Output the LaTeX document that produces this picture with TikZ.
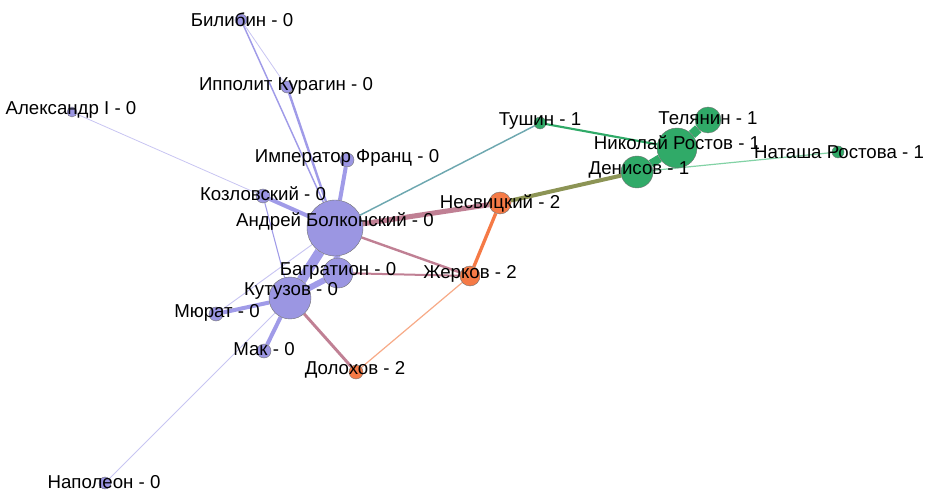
\documentclass[tikz,border=0pt]{standalone}
\usepackage{fontspec}
\setmainfont{Liberation Sans}
\usetikzlibrary{backgrounds}

\definecolor{lav}{RGB}{155,150,226}
\definecolor{lavedge}{RGB}{160,155,232}
\definecolor{lavthin}{RGB}{200,197,242}
\definecolor{grn}{RGB}{48,170,104}
\definecolor{grnthin}{RGB}{130,210,165}
\definecolor{org}{RGB}{245,122,70}
\definecolor{orgthin}{RGB}{247,170,135}
\definecolor{rose}{RGB}{192,128,148}
\definecolor{tealedge}{RGB}{110,168,176}
\definecolor{olive}{RGB}{140,148,85}

\tikzset{
  dot/.style={circle,draw=black!55,line width=0.3pt,inner sep=0pt,minimum size=#1*1.5pt},
  charlabel/.style={font=\fontsize{14}{16}\selectfont,inner sep=0pt},
}

\begin{document}
\begin{tikzpicture}[x=0.75pt,y=-0.75pt]
\useasboundingbox (0,0) rectangle (930,491);

% characters, group 0
\node[dot=6,fill=lav] (bilibin) at (241,20) {};
\node[dot=6,fill=lav] (ippolit) at (287,87) {};
\node[dot=5,fill=lav] (alexandr) at (72,112) {};
\node[dot=7,fill=lav] (franz) at (347,160) {};
\node[dot=7,fill=lav] (kozlovsky) at (263,196) {};
\node[dot=28,fill=lav] (andrey) at (335,228) {};
\node[dot=15,fill=lav] (bagration) at (338,273) {};
\node[dot=21,fill=lav] (kutuzov) at (290,298) {};
\node[dot=7,fill=lav] (murat) at (216,314) {};
\node[dot=7,fill=lav] (mak) at (264,351) {};
\node[dot=6,fill=lav] (napoleon) at (105,483) {};

% group 1
\node[dot=6,fill=grn] (tushin) at (540,123) {};
\node[dot=13,fill=grn] (telyanin) at (708,120) {};
\node[dot=20,fill=grn] (nikolay) at (677,148) {};
\node[dot=6,fill=grn] (natasha) at (838,152) {};
\node[dot=16,fill=grn] (denisov) at (637,172) {};

% group 2
\node[dot=11,fill=org] (nesvitsky) at (500,203) {};
\node[dot=10,fill=org] (zherkov) at (470,276) {};
\node[dot=7,fill=org] (dolokhov) at (356,372) {};

\begin{scope}[on background layer]
\draw[lavthin,line width=0.6pt] (alexandr) -- (kozlovsky);
\draw[lavthin,line width=0.6pt] (napoleon) -- (kutuzov);
\draw[lavthin,line width=0.7pt] (murat) -- (andrey);
\draw[lavthin,line width=0.6pt] (bilibin) -- (ippolit);
\draw[lavedge,line width=0.8pt] (kozlovsky) -- (kutuzov);
\draw[lavedge,line width=1.1pt] (bilibin) -- (andrey);
\draw[lavedge,line width=1.8pt] (ippolit) -- (andrey);
\draw[lavedge,line width=3pt] (franz) -- (andrey);
\draw[lavedge,line width=3pt] (kozlovsky) -- (andrey);
\draw[lavedge,line width=3pt] (murat) -- (kutuzov);
\draw[lavedge,line width=3pt] (mak) -- (kutuzov);
\draw[lavedge,line width=7.5pt] (andrey) -- (kutuzov);
\draw[lavedge,line width=5pt] (andrey) -- (bagration);
\draw[lavedge,line width=4.5pt] (kutuzov) -- (bagration);
\draw[tealedge,line width=1.1pt] (andrey) -- (tushin);
\draw[rose,line width=3.8pt] (andrey) -- (nesvitsky);
\draw[rose,line width=1.8pt] (andrey) -- (zherkov);
\draw[rose,line width=1.5pt] (bagration) -- (zherkov);
\draw[rose,line width=2.2pt] (kutuzov) -- (dolokhov);
\draw[orgthin,line width=0.9pt] (dolokhov) -- (zherkov);
\draw[org,line width=2.5pt] (zherkov) -- (nesvitsky);
\draw[olive,line width=3pt] (nesvitsky) -- (denisov);
\draw[grn,line width=1.6pt] (tushin) -- (nikolay);
\draw[grnthin,line width=0.9pt] (denisov) -- (natasha);
\draw[grn,line width=7pt] (nikolay) -- (telyanin);
\draw[grn,line width=6pt] (nikolay) -- (denisov);
\end{scope}

% labels on top
\node[charlabel] (bilibin-l) at (242,20) {Билибин - 0};
\node[charlabel] (ippolit-l) at (286,86) {Ипполит Курагин - 0};
\node[charlabel] (alexandr-l) at (71,110) {Александр I - 0};
\node[charlabel] (franz-l) at (347,158) {Император Франц - 0};
\node[charlabel] (kozlovsky-l) at (263,194) {Козловский - 0};
\node[charlabel] (andrey-l) at (335,222) {Андрей Болконский - 0};
\node[charlabel] (tushin-l) at (540,121) {Тушин - 1};
\node[charlabel] (nesvitsky-l) at (500,203) {Несвицкий - 2};
\node[charlabel] (telyanin-l) at (708,118) {Телянин - 1};
\node[charlabel] (nikolay-l) at (677,143) {Николай Ростов - 1};
\node[charlabel] (natasha-l) at (839,152) {Наташа Ростова - 1};
\node[charlabel] (denisov-l) at (639,170) {Денисов - 1};
\node[charlabel] (bagration-l) at (338,271) {Багратион - 0};
\node[charlabel] (zherkov-l) at (470,274) {Жерков - 2};
\node[charlabel] (kutuzov-l) at (291,291) {Кутузов - 0};
\node[charlabel] (murat-l) at (217,313) {Мюрат - 0};
\node[charlabel] (mak-l) at (264,349) {Мак - 0};
\node[charlabel] (dolokhov-l) at (355,370) {Долохов - 2};
\node[charlabel] (napoleon-l) at (104,482) {Наполеон - 0};

\end{tikzpicture}
\end{document}
